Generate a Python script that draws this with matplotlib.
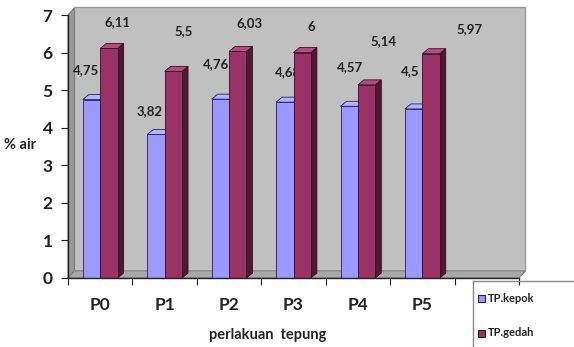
import matplotlib
matplotlib.use("Agg")
import matplotlib.pyplot as plt
from matplotlib.patches import Polygon, Rectangle
from matplotlib.lines import Line2D

# data
categories = ["P0", "P1", "P2", "P3", "P4", "P5"]
kepok = [4.75, 3.82, 4.76, 4.68, 4.57, 4.5]
gedah = [6.11, 5.5, 6.03, 6.0, 5.14, 5.97]
kepok_txt = ["4,75", "3,82", "4,76", "4,68", "4,57", "4,5"]
gedah_txt = ["6,11", "5,5", "6,03", "6", "5,14", "5,97"]

# label offsets in pixels (dx, dy) relative to the bar top
kepok_off = [(-5, 29), (-6, 23), (-4, 35), (3, 30), (1, 39), (-4, 38)]
gedah_off = [(9, 26), (10, 40), (12, 28), (9, 26), (17, 44), (38, 25)]

plt.rcParams['font.family'] = ['Lato', 'DejaVu Sans']

W, H = 574, 347
fig = plt.figure(figsize=(W / 100, H / 100), dpi=100)
fig.patch.set_facecolor('white')

# axes from x=68..519 px, y=0 at 278 px, y=7 at 15 px
ax = fig.add_axes([68 / W, (H - 278) / H, (519 - 68) / W, (278 - 15) / H])
ax.set_xlim(-0.5, 6.5)
ax.set_ylim(0, 7)
ax.patch.set_alpha(0)

# 3d-ish wall, side and floor
wdx, wdy = 0.1, 0.19
ax.add_patch(Rectangle((-0.5 + wdx, wdy), 7, 7.02, facecolor='#c0c0c0',
                       edgecolor='#9a9a9a', lw=1, clip_on=False, zorder=0))
ax.add_patch(Polygon([(-0.5, 0), (-0.5, 7), (-0.5 + wdx, 7 + wdy), (-0.5 + wdx, wdy)],
                     closed=True, facecolor='#999999', edgecolor='#7a7a7a', lw=0.8,
                     clip_on=False, zorder=0.5))
ax.add_patch(Polygon([(-0.5, 0), (6.5, 0), (6.5 + wdx, wdy), (-0.5 + wdx, wdy)],
                     closed=True, facecolor='#a8a8a8', edgecolor='#808080', lw=0.8,
                     clip_on=False, zorder=0.5))

w = 0.27
bdx, bdy = 0.093, 0.133
blue, blue_top, blue_side, blue_edge = '#9999ff', '#b3b3ff', '#6666cc', '#202060'
red, red_top, red_side, red_edge = '#993366', '#b34d80', '#4d1a33', '#3a0a20'


def bar3d(x, h, face, top, side, edge, z):
    l, r = x - w / 2, x + w / 2
    ax.add_patch(Polygon([(r, 0), (r + bdx, bdy), (r + bdx, h + bdy), (r, h)], closed=True,
                         facecolor=side, edgecolor=edge, lw=0.6, zorder=z))
    ax.add_patch(Polygon([(l, h), (l + bdx, h + bdy), (r + bdx, h + bdy), (r, h)], closed=True,
                         facecolor=top, edgecolor=edge, lw=0.6, zorder=z))
    ax.bar(x, h, width=w, color=face, edgecolor=edge, lw=0.6, zorder=z + 0.1)


for i in range(len(categories)):
    bar3d(i - w / 2, kepok[i], blue, blue_top, blue_side, blue_edge, 3)
    bar3d(i + w / 2, gedah[i], red, red_top, red_side, red_edge, 4)
    ax.annotate(kepok_txt[i], (i - w / 2, kepok[i]), xytext=kepok_off[i],
                textcoords='offset pixels', ha='center', va='center',
                fontsize=9.5, fontweight='bold', color='#222222', zorder=3.5)
    ax.annotate(gedah_txt[i], (i + w / 2, gedah[i]), xytext=gedah_off[i],
                textcoords='offset pixels', ha='center', va='center',
                fontsize=9.5, fontweight='bold', color='#222222', zorder=5,
                annotation_clip=False)

# axes styling
for s in ['top', 'right']:
    ax.spines[s].set_visible(False)
for s in ['left', 'bottom']:
    ax.spines[s].set_color('#222222')
    ax.spines[s].set_linewidth(1.0)
    ax.spines[s].set_zorder(6)
ax.set_yticks(range(0, 8))
ax.tick_params(axis='y', direction='out', length=5, labelsize=12.5, colors='#222222', pad=6)
for t in ax.get_yticklabels():
    t.set_fontweight('bold')
ax.set_xticks([k - 0.5 for k in range(8)])
ax.set_xticklabels([''] * 8)
ax.set_xticks(range(len(categories)), minor=True)
ax.set_xticklabels(categories, minor=True, fontsize=12.5, fontweight='bold', color='#222222')
ax.tick_params(axis='x', which='major', direction='out', length=5, colors='#222222')
ax.tick_params(axis='x', which='minor', length=0, pad=14)

fig.text(20 / W, 1 - 145 / H, '% air', ha='center', va='center', fontsize=10.5,
         fontweight='bold', color='#222222')
fig.text(268 / W, 1 - 335 / H, 'perlakuan  tepung', ha='center', va='center',
         fontsize=10.5, fontweight='bold', color='#222222')

# legend box
fig.add_artist(Line2D([473 / W, 473 / W], [0, 1 - 281 / H], color='#888888', lw=1))
fig.add_artist(Line2D([473 / W, 1], [1 - 281 / H, 1 - 281 / H], color='#888888', lw=1))
for yy, c, e, lab in [(298, blue, blue_edge, 'TP.kepok'), (333, red, red_edge, 'TP.gedah')]:
    fig.add_artist(Rectangle((478 / W, 1 - (yy + 3.5) / H), 7 / W, 7 / H,
                             facecolor=c, edgecolor=e, lw=0.8, transform=fig.transFigure))
    fig.text(488 / W, 1 - yy / H, lab, ha='left', va='center', fontsize=8,
             fontweight='bold', color='#222222')

fig.savefig('out.png', dpi=100)
